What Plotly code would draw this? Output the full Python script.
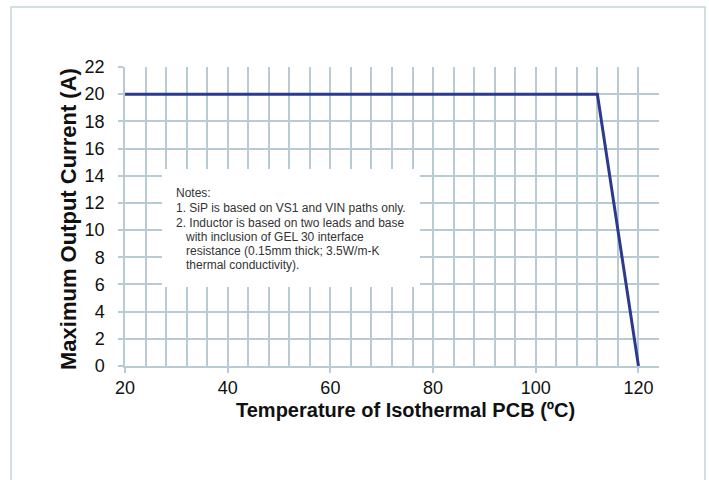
import plotly.graph_objects as go

# Data
temperature = [20, 112, 120]
current = [20, 20, 0]
x_ticks = [20, 40, 60, 80, 100, 120]
y_ticks = [0, 2, 4, 6, 8, 10, 12, 14, 16, 18, 20, 22]
x_title = "Temperature of Isothermal PCB (ºC)"
y_title = "Maximum Output Current (A)"
notes_lines = [
    "Notes:",
    "1. SiP is based on VS1 and VIN paths only.",
    "2. Inductor is based on two leads and base",
    "\u00a0\u00a0\u00a0with inclusion of GEL 30 interface",
    "\u00a0\u00a0\u00a0resistance (0.15mm thick; 3.5W/m-K",
    "\u00a0\u00a0\u00a0thermal conductivity).",
]

W, H = 709, 480
PL, PT, PW, PH = 125, 67, 534, 299  # plot area in pixels
L, T = PL, PT
R = W - L - PW
B = H - T - PH

def px_to_paper(px, py):
    return (px - PL) / PW, (PT + PH - py) / PH

grid_color = "#b8cbd4"
line_color = "#2c3a8e"
font_family = "Liberation Sans, Arial, sans-serif"

fig = go.Figure()
fig.add_trace(go.Scatter(
    x=temperature, y=current, mode="lines",
    line=dict(color=line_color, width=3), showlegend=False,
    hoverinfo="skip",
))

fig.update_xaxes(
    range=[20, 124], tickvals=x_ticks, ticks="outside", ticklen=5,
    tickcolor=grid_color, tickwidth=1.5,
    showgrid=True, gridcolor=grid_color, gridwidth=1.5,
    minor=dict(dtick=4, tick0=20, showgrid=True, gridcolor=grid_color, gridwidth=1.5),
    showline=True, linecolor=grid_color, linewidth=1.5,
    zeroline=False,
    tickfont=dict(size=18, color="#111111", family=font_family),
)
fig.update_yaxes(
    range=[0, 22], tickvals=y_ticks, ticks="outside", ticklen=5,
    tickcolor=grid_color, tickwidth=1.5, ticklabelstandoff=10,
    showgrid=True, gridcolor=grid_color, gridwidth=1.5,
    showline=True, linecolor=grid_color, linewidth=1.5,
    zeroline=False,
    tickfont=dict(size=18, color="#111111", family=font_family),
)

# white notes box covering the grid
bx0, by0 = px_to_paper(162, 287)
bx1, by1 = px_to_paper(420, 169)
ox0, oy0 = px_to_paper(11, 500)
ox1, oy1 = px_to_paper(705, 7)
fig.update_layout(
    width=W, height=H,
    margin=dict(l=L, r=R, t=T, b=B),
    paper_bgcolor="white", plot_bgcolor="white",
    font=dict(family=font_family),
    shapes=[
        dict(type="rect", xref="paper", yref="paper", x0=bx0, y0=by0, x1=bx1, y1=by1,
             fillcolor="white", line=dict(width=0), layer="above"),
        dict(type="rect", xref="paper", yref="paper", x0=ox0, y0=oy0, x1=ox1, y1=oy1,
             fillcolor="rgba(0,0,0,0)", line=dict(color="#c3d6db", width=1.5), layer="above"),
    ],
)

# axis titles
tx, ty = px_to_paper(405, 410)
fig.add_annotation(xref="paper", yref="paper", x=tx, y=ty, xanchor="center", yanchor="middle",
                   text="<b>" + x_title + "</b>", showarrow=False,
                   font=dict(size=20, color="#111111", family=font_family))
tx, ty = px_to_paper(68, 219)
fig.add_annotation(xref="paper", yref="paper", x=tx, y=ty, xanchor="center", yanchor="middle",
                   text="<b>" + y_title + "</b>", showarrow=False, textangle=-90,
                   font=dict(size=22, color="#111111", family=font_family))

line_centers = [193.3, 208.3, 222.7, 236.7, 251.0, 265.3]
for txt, cy in zip(notes_lines, line_centers):
    ax, ay = px_to_paper(175, cy)
    fig.add_annotation(
        xref="paper", yref="paper", x=ax, y=ay, xanchor="left", yanchor="middle",
        text=txt, align="left", showarrow=False,
        font=dict(size=12, color="#333333", family=font_family), borderpad=0,
    )

fig.write_html(
    "out.html",
    config={"displayModeBar": False},
    post_script="document.body.style.margin='0';document.body.style.overflow='hidden';",
)
